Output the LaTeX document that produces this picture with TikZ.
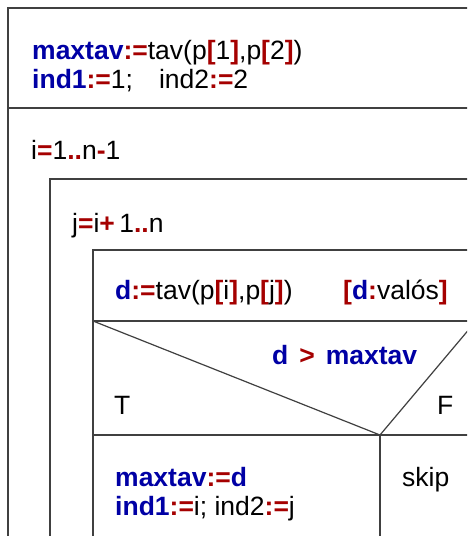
\documentclass[tikz,border=0pt]{standalone}
\usepackage{fontspec}
\setmainfont{Liberation Sans}
\usepackage{tikz}
\definecolor{kwblue}{RGB}{0,0,165}
\definecolor{opred}{RGB}{165,0,0}
\newcommand{\vn}[1]{\textbf{\color{kwblue}#1}}
\newcommand{\opr}[1]{\textbf{\color{opred}#1}}

\begin{document}
\begin{tikzpicture}[x=1pt,y=-1pt, every node/.style={font=\fontsize{26.5}{29}\selectfont, inner sep=0pt, anchor=base west}, frame/.style={draw=black!75, line width=1.2pt}]
	\clip (0,0) rectangle (467,536);
	\fill[white] (0,0) rectangle (467,536);
	\draw[frame] (8,600) -- (8,8) -- (700,8);
	\draw[frame] (8,108) -- (700,108);
	\draw[frame] (50,600) -- (50,179) -- (700,179);
	\draw[frame] (93,600) -- (93,250) -- (476,250) -- (476,600);
	\draw[frame] (93,321) -- (476,321);
	\draw[frame] (93,321) -- (380,435) -- (476,321);
	\draw[frame] (93,435) -- (476,435);
	\draw[frame] (380,435) -- (380,600);
	\node (init1) at (32,59) {\vn{maxtav}\opr{:=}tav(p\opr{[}1\opr{]},p\opr{[}2\opr{]})};
	\node (init2) at (32,88) {\vn{ind1}\opr{:=}1;\hspace{26pt}ind2\opr{:=}2};
	\node (loopi) at (31,159) {i\opr{=}1\opr{..}n\opr{-}1};
	\node (loopj) at (72,232) {j\opr{=}i\opr{+}\,1\opr{..}n};
	\node (assign) at (115,299) {\vn{d}\opr{:=}tav(p\opr{[}i\opr{]},p\opr{[}j\opr{]})};
	\node (decl) at (343,299) {\opr{[}\vn{d}\opr{:}valós\opr{]}};
	\node (cond) at (272,364) {\vn{d}\hspace{11pt}\opr{>}\hspace{11pt}\vn{maxtav}};
	\node (tlabel) at (114,414) {T};
	\node (flabel) at (437,414) {F};
	\node (upd1) at (115,486) {\vn{maxtav}\opr{:=}\vn{d}};
	\node (upd2) at (115,515) {\vn{ind1}\opr{:=}i; ind2\opr{:=}j};
	\node (skipnode) at (402,486) {skip};
\end{tikzpicture}
\end{document}
